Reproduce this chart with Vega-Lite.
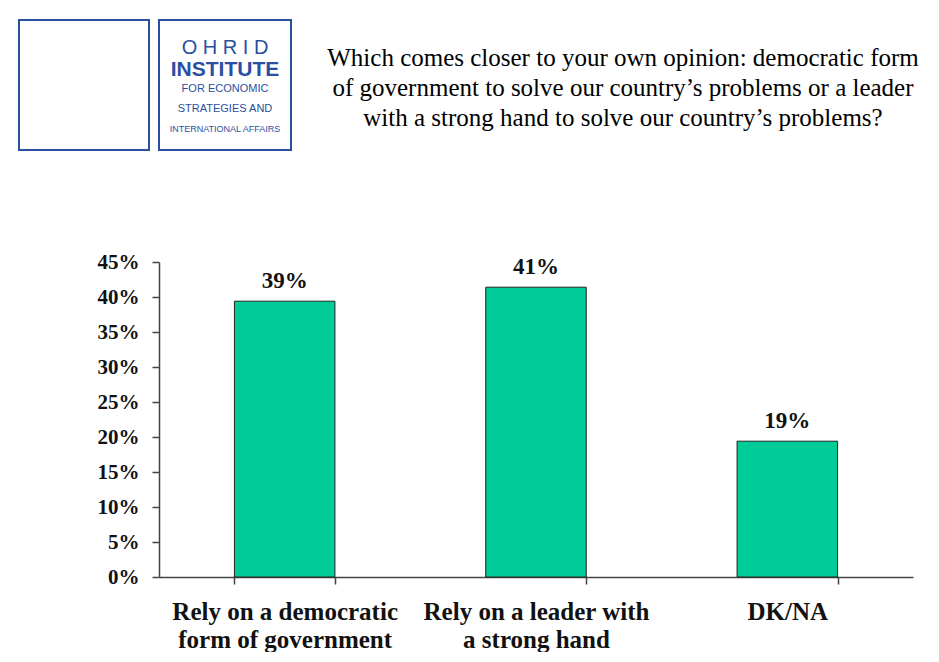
{
  "$schema": "https://vega.github.io/schema/vega-lite/v6.json",
  "background": "white",
  "padding": {"left": 18, "top": 19, "right": 0, "bottom": 0},
  "config": {"view": {"stroke": null}, "font": "Liberation Serif"},
  "columns": 2,
  "spacing": {"row": 112, "column": 9},
  "bounds": "flush",
  "align": "each",
  "concat": [
    {
      "width": 130,
      "height": 130,
      "view": {"stroke": "#2b4fa0", "strokeWidth": 2},
      "data": {"values": []},
      "mark": "text",
      "encoding": {}
    },
    {
      "width": 132,
      "height": 130,
      "view": {"stroke": "#2b4fa0", "strokeWidth": 2},
      "data": {"values": [
        {"line": "O H R I D"},
        {"line": "INSTITUTE"},
        {"line": "FOR ECONOMIC"},
        {"line": "STRATEGIES AND"},
        {"line": "INTERNATIONAL AFFAIRS"}
      ]},
      "encoding": {
        "y": {
          "field": "line",
          "type": "nominal",
          "axis": null,
          "scale": {
            "domain": ["O H R I D", "INSTITUTE", "FOR ECONOMIC", "STRATEGIES AND", "INTERNATIONAL AFFAIRS"],
            "range": [28, 109],
            "padding": 0
          }
        },
        "text": {"field": "line"}
      },
      "layer": [
        {
          "transform": [{"filter": "datum.line == 'O H R I D'"}],
          "mark": {"type": "text", "font": "Liberation Sans", "fontSize": 20, "color": "#2b4fa0", "baseline": "middle"}
        },
        {
          "transform": [{"filter": "datum.line == 'INSTITUTE'"}],
          "mark": {"type": "text", "font": "Liberation Sans", "fontSize": 21, "fontWeight": "bold", "color": "#2b4fa0", "baseline": "middle", "dy": 2}
        },
        {
          "transform": [{"filter": "datum.line == 'FOR ECONOMIC' || datum.line == 'STRATEGIES AND'"}],
          "mark": {"type": "text", "font": "Liberation Sans", "fontSize": 11, "color": "#2b4fa0", "baseline": "middle"}
        },
        {
          "transform": [{"filter": "datum.line == 'INTERNATIONAL AFFAIRS'"}],
          "mark": {"type": "text", "font": "Liberation Sans", "fontSize": 9, "color": "#2b4fa0", "baseline": "middle"}
        }
      ]
    },
    {
      "width": 131,
      "height": 10,
      "data": {"values": []},
      "mark": "text",
      "encoding": {}
    },
    {
      "width": 754,
      "height": 315,
      "title": {
        "text": [
          "Which comes closer to your own opinion: democratic form",
          "of government to solve our country’s problems or a leader",
          "with a strong hand to solve our country’s problems?"
        ],
        "font": "Liberation Serif",
        "fontSize": 25,
        "fontWeight": "normal",
        "color": "#000000",
        "lineHeight": 30,
        "frame": "group",
        "anchor": "middle",
        "dx": 87,
        "offset": 120
      },
      "data": {"values": [
        {"answer": "Rely on a democratic form of government", "share": 0.394},
        {"answer": "Rely on a leader with a strong hand", "share": 0.414},
        {"answer": "DK/NA", "share": 0.194}
      ]},
      "encoding": {
        "x": {
          "field": "answer",
          "type": "nominal",
          "sort": null,
          "scale": {"paddingInner": 0.6, "paddingOuter": 0.3},
          "axis": {
            "title": null,
            "labelAngle": 0,
            "tickBand": "extent",
            "tickSize": 7,
            "tickColor": "#444444",
            "tickWidth": 1.5,
            "domainColor": "#444444",
            "domainWidth": 1.5,
            "labelPadding": 15,
            "labelFont": "Liberation Serif",
            "labelFontSize": 25,
            "labelFontWeight": "bold",
            "labelColor": "#111111",
            "labelLineHeight": 28,
            "labelBaseline": "top",
            "labelLimit": 400,
            "labelExpr": "datum.label == 'Rely on a democratic form of government' ? ['Rely on a democratic', 'form of government'] : datum.label == 'Rely on a leader with a strong hand' ? ['Rely on a leader with', 'a strong hand'] : datum.label"
          }
        },
        "y": {
          "field": "share",
          "type": "quantitative",
          "scale": {"domain": [0, 0.45], "nice": false},
          "axis": {
            "title": null,
            "values": [0, 0.05, 0.1, 0.15, 0.2, 0.25, 0.3, 0.35, 0.4, 0.45],
            "format": ".0%",
            "grid": false,
            "tickSize": 7,
            "tickColor": "#444444",
            "tickWidth": 1.5,
            "domainColor": "#444444",
            "domainWidth": 1.5,
            "labelPadding": 13,
            "labelFont": "Liberation Serif",
            "labelFontSize": 21,
            "labelFontWeight": "bold",
            "labelColor": "#111111"
          }
        }
      },
      "layer": [
        {"mark": {"type": "bar", "fill": "#00CC99", "stroke": "#222222", "strokeWidth": 1}},
        {
          "mark": {"type": "text", "dy": -20, "baseline": "middle", "font": "Liberation Serif", "fontSize": 23, "fontWeight": "bold", "color": "#111111"},
          "encoding": {"text": {"field": "share", "type": "quantitative", "format": ".0%"}}
        }
      ]
    }
  ]
}
